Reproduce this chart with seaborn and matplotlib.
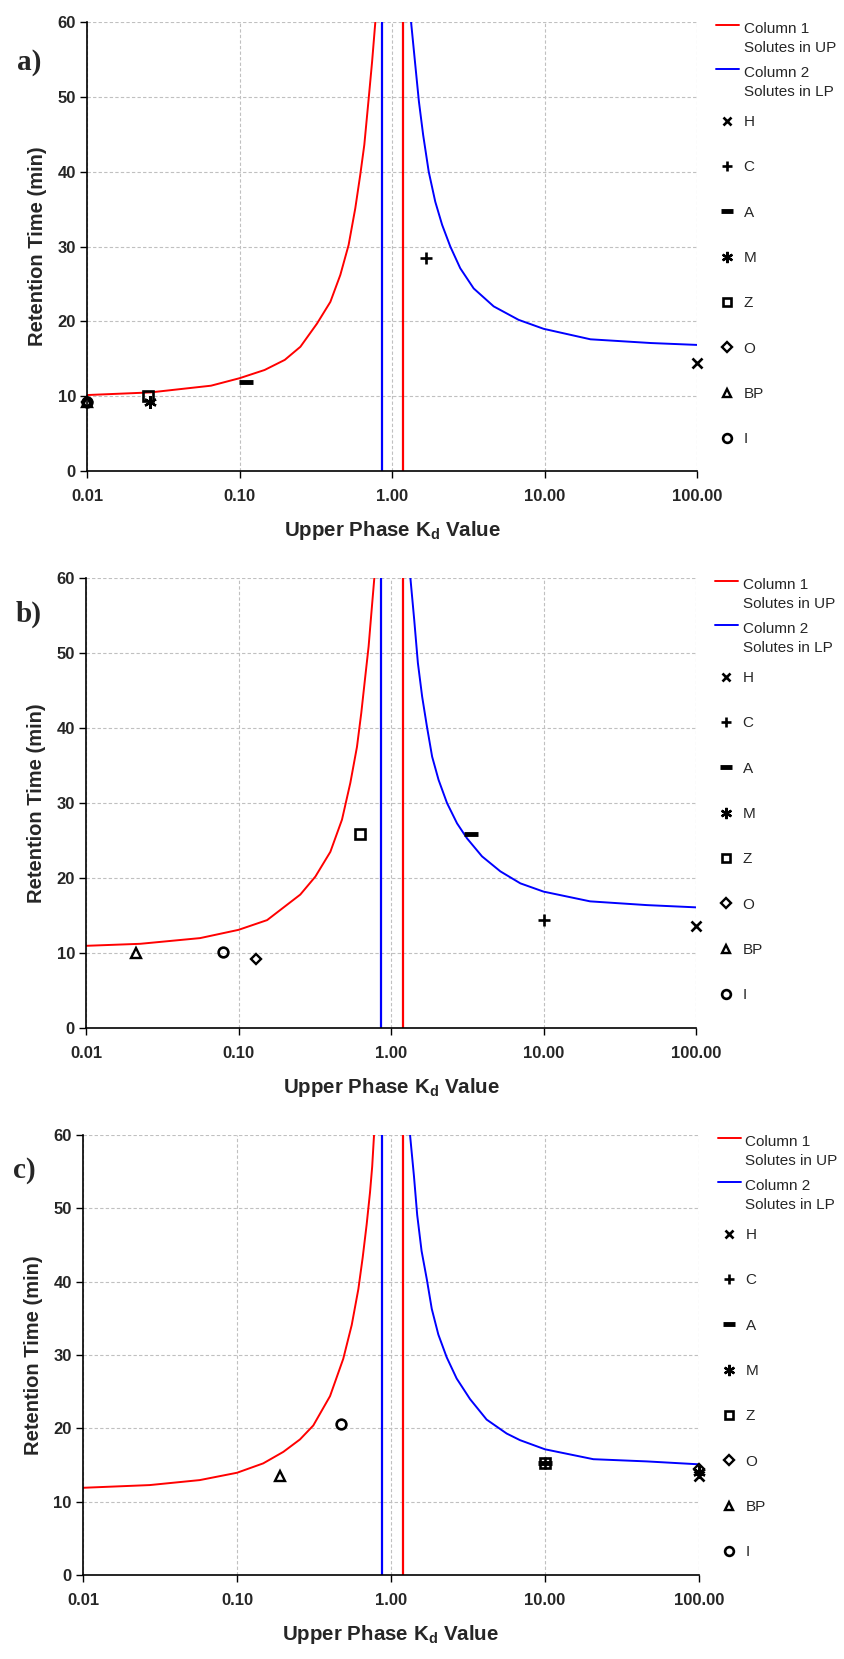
import numpy as np
import pandas as pd
import matplotlib
matplotlib.use('Agg')
import matplotlib.pyplot as plt
import seaborn as sns
from matplotlib.lines import Line2D
from matplotlib.legend_handler import HandlerLine2D
from matplotlib.ticker import NullLocator

# estilo general
sns.set_theme(style='white')
plt.rcParams['font.family'] = ['Liberation Sans', 'DejaVu Sans']
plt.rcParams['mathtext.fontset'] = 'custom'
plt.rcParams['mathtext.rm'] = 'Liberation Sans'
plt.rcParams['mathtext.bf'] = 'Liberation Sans:bold'

# curvas teoricas (Kd vs tiempo de retencion)
kd_up_a = [0.01, 0.026, 0.065, 0.10, 0.146, 0.198, 0.2506, 0.322, 0.394, 0.458, 0.519, 0.574, 0.619, 0.658, 0.703, 0.74, 0.777]
rt_up_a = [10.15, 10.5, 11.4, 12.4, 13.5, 14.85, 16.6, 19.7, 22.6, 26.2, 30.2, 35.1, 39.6, 43.6, 49.8, 54.7, 60.0]
kd_lp_a = [1.333, 1.42, 1.50, 1.60, 1.74, 1.92, 2.13, 2.41, 2.80, 3.43, 4.64, 6.76, 9.87, 20.0, 50.0, 100.0]
rt_lp_a = [60.0, 54.3, 49.4, 44.9, 40.0, 36.0, 32.9, 30.0, 27.1, 24.4, 22.0, 20.2, 19.0, 17.6, 17.1, 16.85]

kd_up_b = [0.01, 0.0227, 0.056, 0.10, 0.154, 0.254, 0.319, 0.40, 0.477, 0.541, 0.598, 0.638, 0.678, 0.713, 0.743, 0.777]
rt_up_b = [10.97, 11.24, 12.0, 13.1, 14.4, 17.8, 20.2, 23.5, 27.8, 32.7, 37.5, 42.0, 46.9, 50.9, 55.3, 60.0]
kd_lp_b = [1.34, 1.42, 1.50, 1.60, 1.72, 1.86, 2.05, 2.33, 2.71, 3.15, 3.95, 5.21, 7.05, 10.0, 20.2, 47.6, 100.0]
rt_lp_b = [60.0, 54.4, 48.7, 44.2, 40.2, 36.2, 33.1, 30.0, 27.3, 25.3, 22.9, 20.9, 19.3, 18.2, 16.9, 16.4, 16.1]

kd_up_c = [0.01, 0.0271, 0.0573, 0.10, 0.148, 0.20, 0.2566, 0.313, 0.402, 0.49, 0.556, 0.614, 0.655, 0.695, 0.731, 0.755, 0.776]
rt_up_c = [11.9, 12.27, 12.95, 13.95, 15.23, 16.8, 18.5, 20.4, 24.4, 29.5, 34.1, 39.0, 43.3, 47.8, 52.2, 55.7, 60.0]
kd_lp_c = [1.33, 1.41, 1.48, 1.58, 1.71, 1.84, 2.03, 2.30, 2.67, 3.26, 4.18, 5.64, 6.88, 10.0, 20.6, 45.7, 100.0]
rt_lp_c = [60.0, 54.4, 49.1, 44.2, 40.3, 36.3, 32.8, 29.7, 26.8, 24.0, 21.2, 19.3, 18.4, 17.15, 15.8, 15.5, 15.1]

# limites verticales de cada columna
kd_lim_col1 = [1.18, 1.19, 1.19]
kd_lim_col2 = [0.86, 0.865, 0.87]

# solutos medidos
solutos = ['H', 'C', 'A', 'M', 'Z', 'O', 'BP', 'I']
kd_sol_a = [100, 1.67, 0.111, 0.0259, 0.025, 0.01, 0.01, 0.01]
rt_sol_a = [14.4, 28.5, 11.85, 9.27, 10.07, 9.2, 9.2, 9.27]
kd_sol_b = [100, 10, 3.37, np.nan, 0.63, 0.130, 0.0214, 0.0787]
rt_sol_b = [13.55, 14.4, 25.9, np.nan, 25.9, 9.24, 10.0, 10.1]
kd_sol_c = [100, 10, 10, 100, 10, 100, 0.189, 0.475]
rt_sol_c = [13.5, 15.3, 15.3, 14.1, 15.3, 14.4, 13.5, 20.6]

kd_ticks = [0.01, 0.1, 1, 10, 100]
kd_tick_labels = ['0.01', '0.10', '1.00', '10.00', '100.00']
rt_ticks = [0, 10, 20, 30, 40, 50, 60]

estilos = {
    'H': dict(marker='x', ms=7, mew=1.9),
    'C': dict(marker='+', ms=8, mew=1.9),
    'A': dict(marker='_', ms=10, mew=3.5),
    'M': dict(marker=(6, 2, 0), ms=9, mew=1.7),
    'Z': dict(marker='s', ms=7, mew=1.9),
    'O': dict(marker='D', ms=5.5, mew=1.7),
    'BP': dict(marker='^', ms=7, mew=1.7),
    'I': dict(marker='o', ms=7, mew=1.9),
}


# la linea de la leyenda va a la altura de la primera linea del texto
class HandlerLineaArriba(HandlerLine2D):
    def create_artists(self, legend, orig_handle, xdescent, ydescent, width, height, fontsize, trans):
        arts = super().create_artists(legend, orig_handle, xdescent, ydescent, width, height, fontsize, trans)
        for a in arts:
            a.set_ydata(np.asarray(a.get_ydata()) + 0.9 * fontsize)
        return arts


paneles = [
    ('a)', kd_up_a, rt_up_a, kd_lp_a, rt_lp_a, kd_sol_a, rt_sol_a),
    ('b)', kd_up_b, rt_up_b, kd_lp_b, rt_lp_b, kd_sol_b, rt_sol_b),
    ('c)', kd_up_c, rt_up_c, kd_lp_c, rt_lp_c, kd_sol_c, rt_sol_c),
]
cajas = [[0.1030, 0.7161, 0.7219, 0.2706],
         [0.1018, 0.3803, 0.7219, 0.2712],
         [0.0982, 0.0506, 0.7290, 0.2652]]
letras_pos = [(29 / 845, 1 - 62 / 1659), (29 / 845, 1 - 614 / 1659), (24 / 845, 1 - 1171 / 1659)]

fig = plt.figure(figsize=(8.45, 16.59), dpi=100)

for i, (letra, kup, rup, klp, rlp, ksol, rsol) in enumerate(paneles):
    ax = fig.add_axes(cajas[i])
    ax.set_xscale('log')
    df_up = pd.DataFrame({'kd': kup, 'rt': rup})
    df_lp = pd.DataFrame({'kd': klp, 'rt': rlp})
    sns.lineplot(data=df_up, x='kd', y='rt', color='#ff0000', lw=1.4, ax=ax, sort=False)
    sns.lineplot(data=df_lp, x='kd', y='rt', color='#0000ff', lw=1.4, ax=ax, sort=False)
    ax.axvline(kd_lim_col1[i], color='#ff0000', lw=1.6)
    ax.axvline(kd_lim_col2[i], color='#0000ff', lw=1.6)
    for j, s in enumerate(solutos):
        ax.plot(ksol[j], rsol[j], linestyle='none', mec='black', mfc='none', color='black',
                clip_on=False, zorder=5, **estilos[s])

    ax.set_xlim(0.01, 100)
    ax.set_ylim(0, 60)
    ax.set_xticks(kd_ticks, labels=kd_tick_labels, fontweight='bold', fontsize=12)
    ax.xaxis.set_minor_locator(NullLocator())
    ax.set_yticks(rt_ticks, labels=[str(t) for t in rt_ticks], fontweight='bold', fontsize=12)
    ax.tick_params(axis='both', bottom=True, left=True, direction='out', length=5, width=1, color='black')
    ax.tick_params(axis='x', pad=8)
    ax.tick_params(axis='y', pad=3)
    ax.grid(True, color='#c0c0c0', linestyle=(0, (3, 2)), lw=0.8)
    ax.set_axisbelow(True)
    for lado in ['top', 'right']:
        ax.spines[lado].set_visible(False)
    for lado in ['left', 'bottom']:
        ax.spines[lado].set_color('black')
        ax.spines[lado].set_linewidth(1.2)
    ax.set_ylabel('Retention Time (min)', fontsize=14.5, fontweight='bold', labelpad=7.5)
    ax.set_xlabel(r'Upper Phase K$_{\mathbf{d}}$ Value', fontsize=14.8, fontweight='bold', labelpad=11)

    # leyendas
    tope = cajas[i][1] + cajas[i][3]
    x_ley = (cajas[i][0] + cajas[i][2]) + 19 / 845
    h_lineas = [Line2D([], [], color='#ff0000', lw=1.4), Line2D([], [], color='#0000ff', lw=1.4)]
    ley1 = ax.legend(h_lineas, ['Column 1\nSolutes in UP', 'Column 2\nSolutes in LP'],
                     loc='upper left', bbox_to_anchor=(x_ley, tope + 0 / 1659),
                     bbox_transform=fig.transFigure, frameon=False, fontsize=11,
                     handlelength=1.5, handletextpad=0.3, labelspacing=0.77,
                     borderaxespad=0, borderpad=0,
                     handler_map={Line2D: HandlerLineaArriba()})
    for t in ley1.get_texts():
        t.set_linespacing(1.41)
    ax.add_artist(ley1)
    h_sol = []
    for s in solutos:
        st = dict(estilos[s])
        st['ms'] = st['ms'] * 0.9
        h_sol.append(Line2D([], [], linestyle='none', mec='black', mfc='none', color='black', **st))
    ax.legend(h_sol, solutos, loc='upper left', bbox_to_anchor=(x_ley, tope - 93 / 1659),
              bbox_transform=fig.transFigure, frameon=False, fontsize=11,
              handlelength=1.5, handletextpad=0.3, labelspacing=2.05,
              borderaxespad=0, borderpad=0)

    fig.text(letras_pos[i][0], letras_pos[i][1], letra, fontfamily='Liberation Serif',
             fontweight='bold', fontsize=21, ha='center', va='center')

fig.savefig('out.png', dpi=100)
